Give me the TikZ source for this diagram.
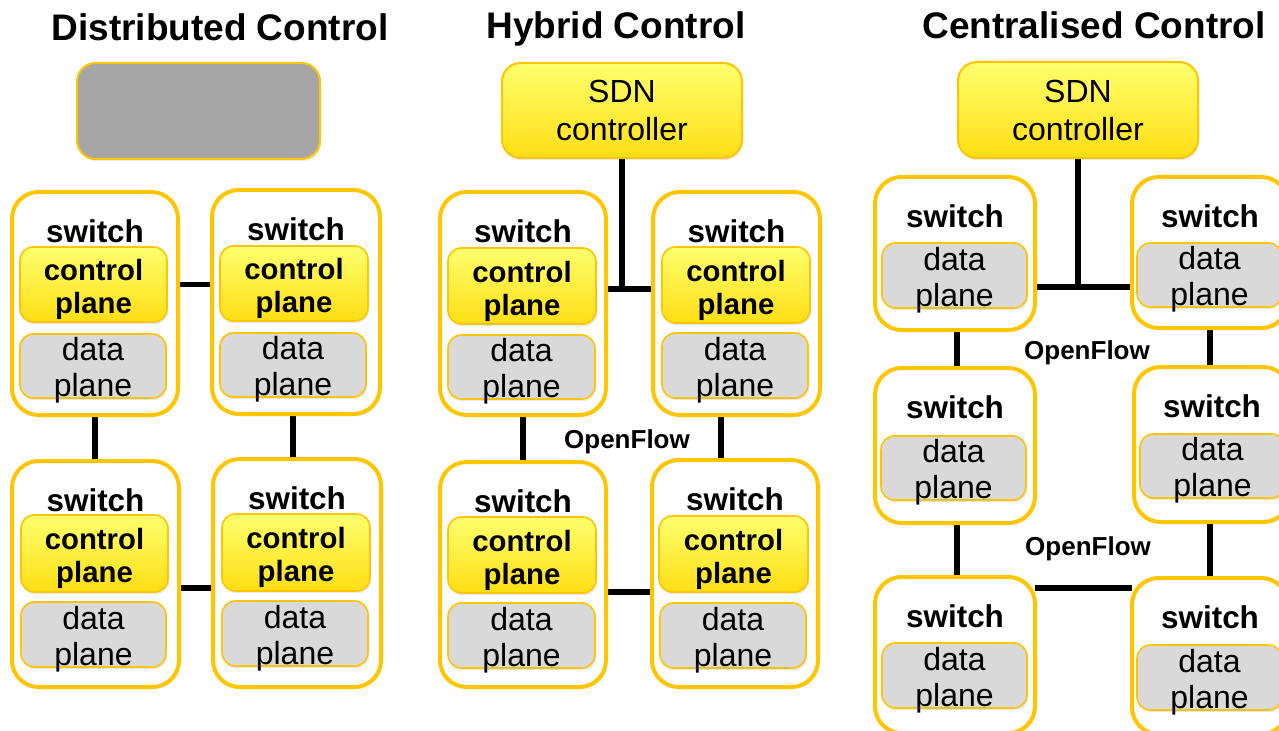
\documentclass[tikz,border=0pt]{standalone}
\usepackage{fontspec}
\setmainfont{Liberation Sans}
\usetikzlibrary{shadows,backgrounds,calc}
\definecolor{ybord}{RGB}{255,198,0}
\definecolor{ctop}{RGB}{255,255,110}
\definecolor{cbot}{RGB}{255,222,20}
\definecolor{dfill}{RGB}{217,217,217}
\definecolor{gfill}{RGB}{166,166,166}
\tikzset{
 shd/.style={drop shadow={shadow xshift=0.9pt,shadow yshift=-1.6pt,opacity=0.18}},
 basebox/.style={inner sep=0pt,outer sep=0pt},
 swbox/.style={basebox,draw=ybord,line width=3pt,fill=white,rounded corners=20pt,shd},
 ctrlbox/.style={basebox,draw=ybord,line width=1.2pt,top color=ctop,bottom color=cbot,rounded corners=10pt,shd},
 databox/.style={basebox,draw=ybord,line width=1.2pt,fill=dfill,rounded corners=10pt,shd},
 sdnbox/.style={basebox,draw=ybord,line width=1.5pt,top color=ctop,bottom color=cbot,rounded corners=14pt,shd},
 graybox/.style={basebox,draw=ybord,line width=1.5pt,fill=gfill,rounded corners=14pt,shd},
 ctrltxt/.style={inner sep=0pt,align=center,yshift=-4pt,font=\fontsize{22}{24.8}\selectfont\bfseries},
 datatxt/.style={inner sep=0pt,align=center,yshift=-3.4pt,font=\fontsize{24}{27}\selectfont},
 sdntxt/.style={inner sep=0pt,align=center,font=\fontsize{24}{28.5}\selectfont},
 notxt/.style={inner sep=0pt},
 swlbl/.style={inner sep=0pt,font=\fontsize{23.6}{28}\selectfont\bfseries},
 ttl/.style={inner sep=0pt,anchor=base,font=\fontsize{27.75}{32}\selectfont\bfseries},
 oflbl/.style={inner sep=0pt,font=\fontsize{19.5}{23}\selectfont\bfseries},
 conn/.style={line width=4.4pt,draw=black},
}
\newcommand\mybx[8]{\node[#6,minimum width={(#4-#2)*0.75pt},minimum height={(#5-#3)*0.75pt},label={[#7,name=#1t]center:#8}] (#1) at ({(#2+#4)/2},{(#3+#5)/2}) {};}
\newcommand\mysw[5]{\node[swbox,minimum width={(#4-#2)*0.75pt},minimum height={(#5-#3)*0.75pt}] (#1) at ({(#2+#4)/2},{(#3+#5)/2}) {};\node[swlbl] (#1l) at ({(#2+#4)/2},{#3+39}) {switch};}
\begin{document}
\begin{tikzpicture}[x=0.75pt,y=-0.75pt]
\useasboundingbox (0,0) rectangle (1279,731);
\clip (0,0) rectangle (1279,731);
% titles
\node[ttl] (t1) at (220,41) {Distributed Control};
\node[ttl] (t2) at (616,39) {Hybrid Control};
\node[ttl] (t3) at (1094,39) {Centralised Control};
% ---------- Distributed ----------
\mybx{dgray}{77}{63}{320}{159}{graybox}{notxt}{}
\mysw{dtl}{12}{192}{178}{415}
\mybx{dtlc}{20}{247}{167}{322}{ctrlbox}{ctrltxt}{control\\plane}
\mybx{dtld}{20}{334}{166}{398}{databox}{datatxt}{data\\plane}
\mysw{dtr}{212}{190}{380}{414}
\mybx{dtrc}{220}{246}{368}{321}{ctrlbox}{ctrltxt}{control\\plane}
\mybx{dtrd}{220}{333}{366}{397}{databox}{datatxt}{data\\plane}
\mysw{dbl}{12}{461}{179}{687}
\mybx{dblc}{21}{515}{168}{592}{ctrlbox}{ctrltxt}{control\\plane}
\mybx{dbld}{21}{602}{166}{667}{databox}{datatxt}{data\\plane}
\mysw{dbr}{213}{459}{381}{687}
\mybx{dbrc}{222}{514}{370}{591}{ctrlbox}{ctrltxt}{control\\plane}
\mybx{dbrd}{222}{601}{368}{666}{databox}{datatxt}{data\\plane}
% ---------- Hybrid ----------
\mybx{hsdn}{502}{63}{742}{158}{sdnbox}{sdntxt}{SDN\\controller}
\mysw{htl}{440}{192}{606}{415}
\mybx{htlc}{448}{248}{596}{324}{ctrlbox}{ctrltxt}{control\\plane}
\mybx{htld}{448}{335}{595}{399}{databox}{datatxt}{data\\plane}
\mysw{htr}{653}{192}{820}{415}
\mybx{htrc}{662}{247}{810}{323}{ctrlbox}{ctrltxt}{control\\plane}
\mybx{htrd}{662}{333}{808}{398}{databox}{datatxt}{data\\plane}
\mysw{hbl}{440}{462}{606}{687}
\mybx{hblc}{448}{517}{596}{593}{ctrlbox}{ctrltxt}{control\\plane}
\mybx{hbld}{448}{603}{595}{668}{databox}{datatxt}{data\\plane}
\mysw{hbr}{652}{460}{818}{687}
\mybx{hbrc}{659}{516}{808}{592}{ctrlbox}{ctrltxt}{control\\plane}
\mybx{hbrd}{660}{603}{806}{668}{databox}{datatxt}{data\\plane}
\node[oflbl] (of1) at (627,442) {OpenFlow};
% ---------- Centralised ----------
\mybx{csdn}{958}{62}{1198}{158}{sdnbox}{sdntxt}{SDN\\controller}
\mysw{ctl}{875}{177}{1035}{330}
\mybx{ctld}{882}{243}{1027}{308}{databox}{datatxt}{data\\plane}
\mysw{ctr}{1132}{177}{1288}{328}
\mybx{ctrd}{1137}{243}{1282}{307}{databox}{datatxt}{data\\plane}
\mysw{cml}{875}{368}{1035}{523}
\mybx{cmld}{881}{436}{1026}{500}{databox}{datatxt}{data\\plane}
\mysw{cmr}{1134}{367}{1290}{522}
\mybx{cmrd}{1140}{434}{1285}{498}{databox}{datatxt}{data\\plane}
\mysw{cbl}{875}{577}{1035}{733}
\mybx{cbld}{882}{643}{1027}{708}{databox}{datatxt}{data\\plane}
\mysw{cbr}{1132}{578}{1288}{734}
\mybx{cbrd}{1137}{645}{1282}{710}{databox}{datatxt}{data\\plane}
\node[oflbl] (of2) at (1087,353) {OpenFlow};
\node[oflbl] (of3) at (1088,549) {OpenFlow};
% ---------- connectors ----------
\coordinate (hj) at (622,289);
\coordinate (cj) at (1078,287);
\begin{scope}[on background layer]
\draw[conn] (dtl.east |- dtlc.east) -- (dtr.west |- dtlc.east);
\draw[conn] (dtl.south) -- (dtl.south |- dbl.north);
\draw[conn] (dtr.south -| 293,0) -- (dbr.north -| 293,0);
\draw[conn] (dbl.east |- 0,588) -- (dbr.west |- 0,588);
\draw[conn] (hsdn.south) -- (hj);
\draw[conn] (htl.east |- hj) -- (htr.west |- hj);
\draw[conn] (htl.south) -- (htl.south |- hbl.north);
\draw[conn] (htr.south -| 721,0) -- (hbr.north -| 721,0);
\draw[conn] (hbl.east |- 0,592) -- (hbr.west |- 0,592);
\draw[conn] (csdn.south) -- (cj);
\draw[conn] (ctl.east |- cj) -- (ctr.west |- cj);
\draw[conn] (ctl.south -| 957,0) -- (cml.north -| 957,0);
\draw[conn] (ctr.south -| 1210,0) -- (cmr.north -| 1210,0);
\draw[conn] (cml.south -| 957,0) -- (cbl.north -| 957,0);
\draw[conn] (cmr.south -| 1210,0) -- (cbr.north -| 1210,0);
\draw[conn] (cbl.east |- 0,588) -- (cbr.west |- 0,588);
\end{scope}
\end{tikzpicture}
\end{document}
